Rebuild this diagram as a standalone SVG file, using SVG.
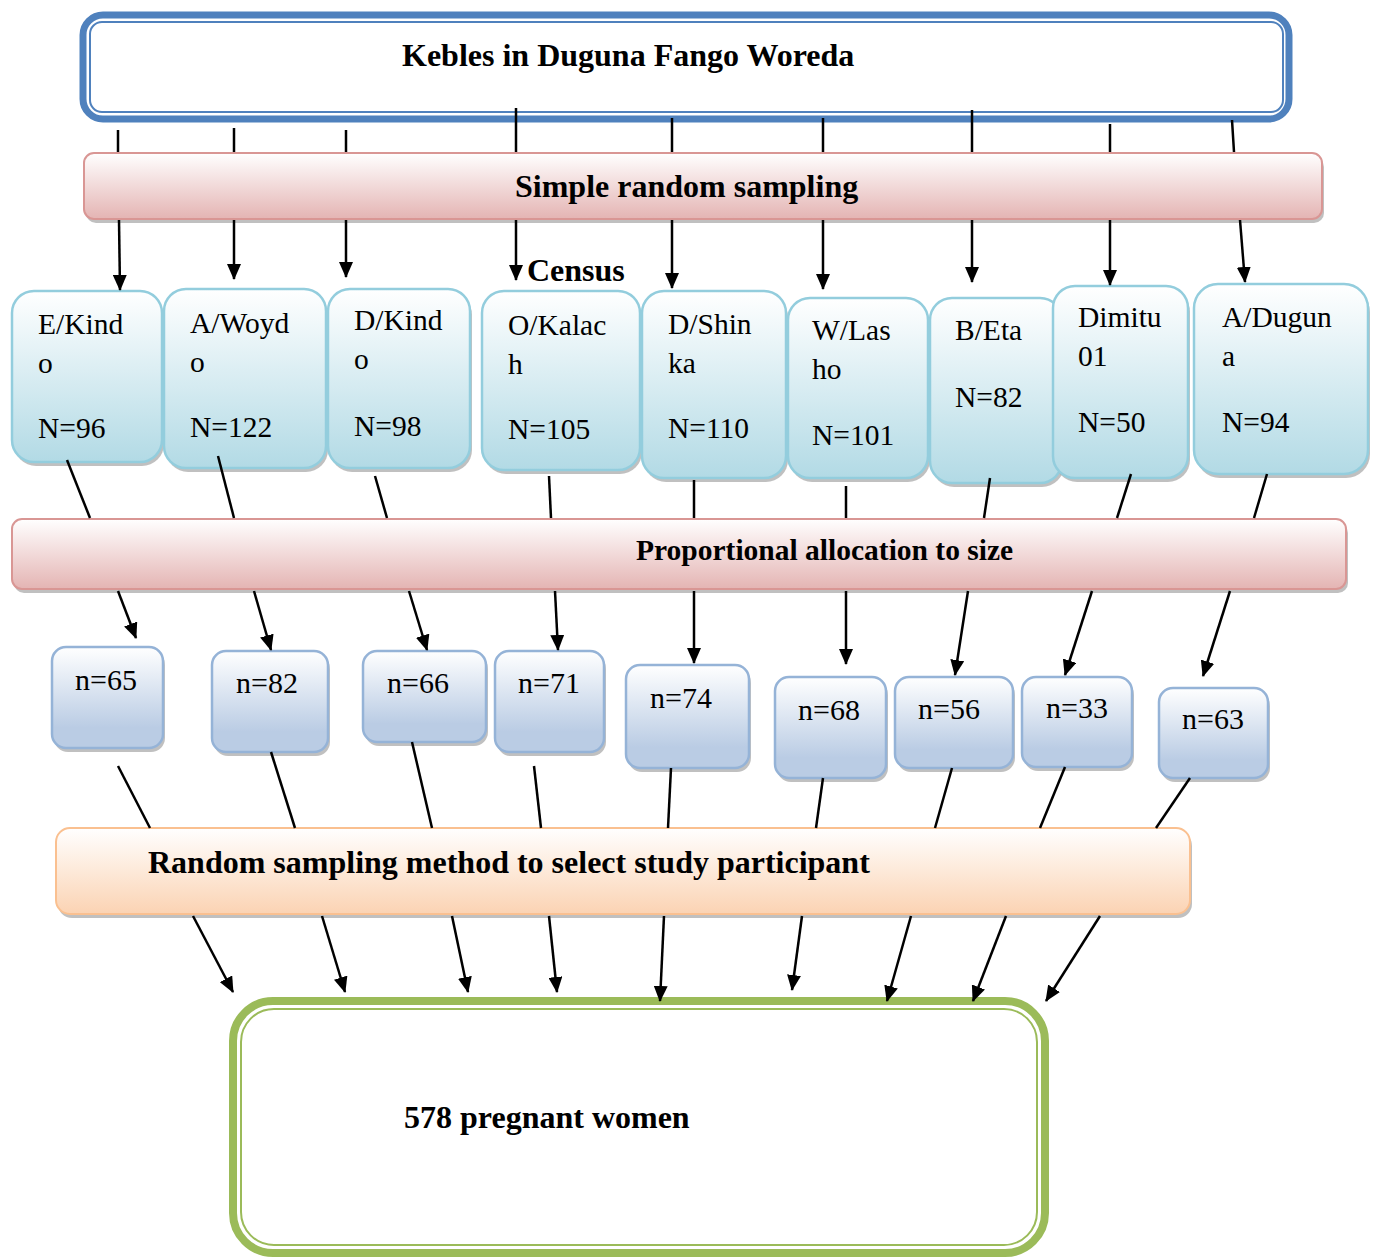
<svg xmlns="http://www.w3.org/2000/svg" width="1376" height="1257" viewBox="0 0 1376 1257">
<style>
.t{font-family:"Liberation Serif","Times New Roman",serif;fill:#000}
.b{font-weight:bold;font-size:32px}
.k{font-size:29.5px}
.n{font-size:30px;text-anchor:middle}
.kb{fill:url(#gk);stroke:#93CDDD;stroke-width:2.5}
.nb{fill:url(#gn);stroke:#95B3D7;stroke-width:2.5}
.sh{fill:#8C8C8C;opacity:0.55}
.ln{stroke:#000;stroke-width:2.5;fill:none}
.ar{stroke:#000;stroke-width:2.5;fill:none;marker-end:url(#ah)}
</style>
<defs>
<linearGradient id="gk" x1="0" y1="0" x2="0" y2="1"><stop offset="0" stop-color="#FFFFFF"/><stop offset="1" stop-color="#B2DAE5"/></linearGradient>
<linearGradient id="gn" x1="0" y1="0" x2="0" y2="1"><stop offset="0" stop-color="#FFFFFF"/><stop offset="0.8" stop-color="#BACCE4"/></linearGradient>
<linearGradient id="gp" x1="0" y1="0" x2="0" y2="1"><stop offset="0" stop-color="#FFFFFF"/><stop offset="1" stop-color="#E4B4B3"/></linearGradient>
<linearGradient id="go" x1="0" y1="0" x2="0" y2="1"><stop offset="0" stop-color="#FFFFFF"/><stop offset="1" stop-color="#FBD3B3"/></linearGradient>
<marker id="ah" markerUnits="userSpaceOnUse" markerWidth="16" markerHeight="14" refX="15" refY="7" orient="auto"><path d="M0,0 L16,7 L0,14 Z" fill="#000"/></marker>
</defs>

<g id="kebeles-top">
<rect x="83" y="15" width="1206" height="104" rx="20" fill="#fff" stroke="#4F81BD" stroke-width="7"/>
<rect x="90" y="22" width="1193" height="90" rx="12" fill="none" stroke="#4F81BD" stroke-width="2"/>
<text class="t b" x="402" y="66">Kebles in Duguna Fango Woreda</text>
</g>

<g id="simple-random">
<rect class="sh" x="86" y="157" width="1238" height="66" rx="10"/>
<rect x="84" y="153" width="1238" height="66" rx="10" fill="url(#gp)" stroke="#D99694" stroke-width="2"/>
<text class="t b" x="515" y="197">Simple random sampling</text>
</g>

<g id="census"><text class="t b" x="527" y="281">Census</text></g>

<g id="k1"><rect class="sh" x="14" y="295" width="150" height="171" rx="22"/><rect class="kb" x="12" y="291" width="150" height="171" rx="22"/>
<text class="t k" x="38" y="334">E/Kind</text><text class="t k" x="38" y="373">o</text><text class="t k" x="38" y="438">N=96</text></g>
<g id="k2"><rect class="sh" x="166" y="293" width="162" height="179" rx="22"/><rect class="kb" x="164" y="289" width="162" height="179" rx="22"/>
<text class="t k" x="190" y="333">A/Woyd</text><text class="t k" x="190" y="372">o</text><text class="t k" x="190" y="437">N=122</text></g>
<g id="k3"><rect class="sh" x="330" y="293" width="142" height="179" rx="22"/><rect class="kb" x="328" y="289" width="142" height="179" rx="22"/>
<text class="t k" x="354" y="330">D/Kind</text><text class="t k" x="354" y="369">o</text><text class="t k" x="354" y="436">N=98</text></g>
<g id="k4"><rect class="sh" x="484" y="295" width="158" height="179" rx="22"/><rect class="kb" x="482" y="291" width="158" height="179" rx="22"/>
<text class="t k" x="508" y="335">O/Kalac</text><text class="t k" x="508" y="374">h</text><text class="t k" x="508" y="439">N=105</text></g>
<g id="k5"><rect class="sh" x="644" y="295" width="144" height="187" rx="22"/><rect class="kb" x="642" y="291" width="144" height="187" rx="22"/>
<text class="t k" x="668" y="334">D/Shin</text><text class="t k" x="668" y="373">ka</text><text class="t k" x="668" y="438">N=110</text></g>
<g id="k6"><rect class="sh" x="790" y="302" width="140" height="180" rx="22"/><rect class="kb" x="788" y="298" width="140" height="180" rx="22"/>
<text class="t k" x="812" y="340">W/Las</text><text class="t k" x="812" y="379">ho</text><text class="t k" x="812" y="445">N=101</text></g>
<g id="k7"><rect class="sh" x="932" y="302" width="132" height="185" rx="22"/><rect class="kb" x="930" y="298" width="132" height="185" rx="22"/>
<text class="t k" x="955" y="340">B/Eta</text><text class="t k" x="955" y="407">N=82</text></g>
<g id="k8"><rect class="sh" x="1055" y="290" width="135" height="192" rx="22"/><rect class="kb" x="1053" y="286" width="135" height="192" rx="22"/>
<text class="t k" x="1078" y="327">Dimitu</text><text class="t k" x="1078" y="366">01</text><text class="t k" x="1078" y="432">N=50</text></g>
<g id="k9"><rect class="sh" x="1196" y="288" width="174" height="190" rx="24"/><rect class="kb" x="1194" y="284" width="174" height="190" rx="24"/>
<text class="t k" x="1222" y="327">A/Dugun</text><text class="t k" x="1222" y="366">a</text><text class="t k" x="1222" y="432">N=94</text></g>

<g id="proportional">
<rect class="sh" x="14" y="523" width="1334" height="70" rx="10"/>
<rect x="12" y="519" width="1334" height="70" rx="10" fill="url(#gp)" stroke="#D99694" stroke-width="2"/>
<text class="t b" x="636" y="560" style="font-size:29.5px">Proportional allocation to size</text>
</g>

<g id="n1"><rect class="sh" x="54" y="651" width="111" height="101" rx="14"/><rect class="nb" x="52" y="647" width="111" height="101" rx="14"/><text class="t n" x="106" y="690">n=65</text></g>
<g id="n2"><rect class="sh" x="214" y="655" width="116" height="101" rx="14"/><rect class="nb" x="212" y="651" width="116" height="101" rx="14"/><text class="t n" x="267" y="693">n=82</text></g>
<g id="n3"><rect class="sh" x="365" y="655" width="123" height="91" rx="14"/><rect class="nb" x="363" y="651" width="123" height="91" rx="14"/><text class="t n" x="418" y="693">n=66</text></g>
<g id="n4"><rect class="sh" x="497" y="655" width="109" height="101" rx="14"/><rect class="nb" x="495" y="651" width="109" height="101" rx="14"/><text class="t n" x="549" y="693">n=71</text></g>
<g id="n5"><rect class="sh" x="628" y="669" width="123" height="103" rx="14"/><rect class="nb" x="626" y="665" width="123" height="103" rx="14"/><text class="t n" x="681" y="708">n=74</text></g>
<g id="n6"><rect class="sh" x="777" y="681" width="111" height="101" rx="14"/><rect class="nb" x="775" y="677" width="111" height="101" rx="14"/><text class="t n" x="829" y="720">n=68</text></g>
<g id="n7"><rect class="sh" x="897" y="681" width="118" height="91" rx="14"/><rect class="nb" x="895" y="677" width="118" height="91" rx="14"/><text class="t n" x="949" y="719">n=56</text></g>
<g id="n8"><rect class="sh" x="1024" y="681" width="110" height="90" rx="14"/><rect class="nb" x="1022" y="677" width="110" height="90" rx="14"/><text class="t n" x="1077" y="718">n=33</text></g>
<g id="n9"><rect class="sh" x="1161" y="692" width="109" height="90" rx="14"/><rect class="nb" x="1159" y="688" width="109" height="90" rx="14"/><text class="t n" x="1213" y="729">n=63</text></g>

<g id="random-method">
<rect class="sh" x="58" y="832" width="1134" height="86" rx="14"/>
<rect x="56" y="828" width="1134" height="86" rx="14" fill="url(#go)" stroke="#FAC090" stroke-width="2"/>
<text class="t b" x="148" y="873">Random sampling method to select study participant</text>
</g>

<g id="pregnant-women">
<rect x="233" y="1001" width="812" height="252" rx="40" fill="#fff" stroke="#9BBB59" stroke-width="8"/>
<rect x="241" y="1009" width="796" height="236" rx="33" fill="none" stroke="#9BBB59" stroke-width="2"/>
<text class="t b" x="404" y="1128">578 pregnant women</text>
</g>

<g id="connectors">
<line class="ln" x1="118" y1="130" x2="118" y2="152"/>
<line class="ln" x1="234" y1="128" x2="234" y2="152"/>
<line class="ln" x1="346" y1="130" x2="346" y2="152"/>
<line class="ln" x1="516" y1="108" x2="516" y2="152"/>
<line class="ln" x1="672" y1="118" x2="672" y2="152"/>
<line class="ln" x1="823" y1="118" x2="823" y2="152"/>
<line class="ln" x1="972" y1="110" x2="972" y2="152"/>
<line class="ln" x1="1110" y1="124" x2="1110" y2="152"/>
<line class="ln" x1="1232" y1="120" x2="1234" y2="152"/>

<line class="ar" x1="119" y1="220" x2="120" y2="290"/>
<line class="ar" x1="234" y1="220" x2="234" y2="279"/>
<line class="ar" x1="346" y1="220" x2="346" y2="277"/>
<line class="ar" x1="516" y1="220" x2="516" y2="280"/>
<line class="ar" x1="672" y1="220" x2="672" y2="288"/>
<line class="ar" x1="823" y1="220" x2="823" y2="289"/>
<line class="ar" x1="972" y1="220" x2="972" y2="282"/>
<line class="ar" x1="1110" y1="220" x2="1110" y2="285"/>
<line class="ar" x1="1240" y1="220" x2="1245" y2="282"/>

<line class="ln" x1="67" y1="460" x2="90" y2="518"/>
<line class="ln" x1="218" y1="456" x2="234" y2="518"/>
<line class="ln" x1="375" y1="476" x2="387" y2="518"/>
<line class="ln" x1="549" y1="476" x2="551" y2="518"/>
<line class="ln" x1="694" y1="480" x2="694" y2="518"/>
<line class="ln" x1="846" y1="486" x2="846" y2="518"/>
<line class="ln" x1="990" y1="478" x2="984" y2="518"/>
<line class="ln" x1="1131" y1="474" x2="1117" y2="518"/>
<line class="ln" x1="1267" y1="474" x2="1254" y2="518"/>

<line class="ar" x1="118" y1="591" x2="136" y2="638"/>
<line class="ar" x1="254" y1="591" x2="271" y2="650"/>
<line class="ar" x1="409" y1="591" x2="427" y2="650"/>
<line class="ar" x1="555" y1="591" x2="558" y2="650"/>
<line class="ar" x1="694" y1="591" x2="694" y2="663"/>
<line class="ar" x1="846" y1="591" x2="846" y2="664"/>
<line class="ar" x1="968" y1="591" x2="955" y2="675"/>
<line class="ar" x1="1092" y1="591" x2="1065" y2="675"/>
<line class="ar" x1="1230" y1="591" x2="1203" y2="676"/>

<line class="ln" x1="118" y1="766" x2="150" y2="828"/>
<line class="ln" x1="271" y1="752" x2="295" y2="828"/>
<line class="ln" x1="412" y1="742" x2="432" y2="828"/>
<line class="ln" x1="534" y1="766" x2="541" y2="828"/>
<line class="ln" x1="671" y1="768" x2="668" y2="828"/>
<line class="ln" x1="823" y1="778" x2="816" y2="828"/>
<line class="ln" x1="952" y1="768" x2="935" y2="828"/>
<line class="ln" x1="1065" y1="767" x2="1040" y2="828"/>
<line class="ln" x1="1190" y1="778" x2="1156" y2="828"/>

<line class="ar" x1="193" y1="916" x2="233" y2="992"/>
<line class="ar" x1="322" y1="916" x2="345" y2="992"/>
<line class="ar" x1="452" y1="916" x2="468" y2="992"/>
<line class="ar" x1="549" y1="916" x2="557" y2="992"/>
<line class="ar" x1="664" y1="916" x2="660" y2="1001"/>
<line class="ar" x1="802" y1="916" x2="792" y2="990"/>
<line class="ar" x1="911" y1="916" x2="887" y2="1001"/>
<line class="ar" x1="1006" y1="916" x2="973" y2="1001"/>
<line class="ar" x1="1100" y1="916" x2="1046" y2="1001"/>
</g>
</svg>
